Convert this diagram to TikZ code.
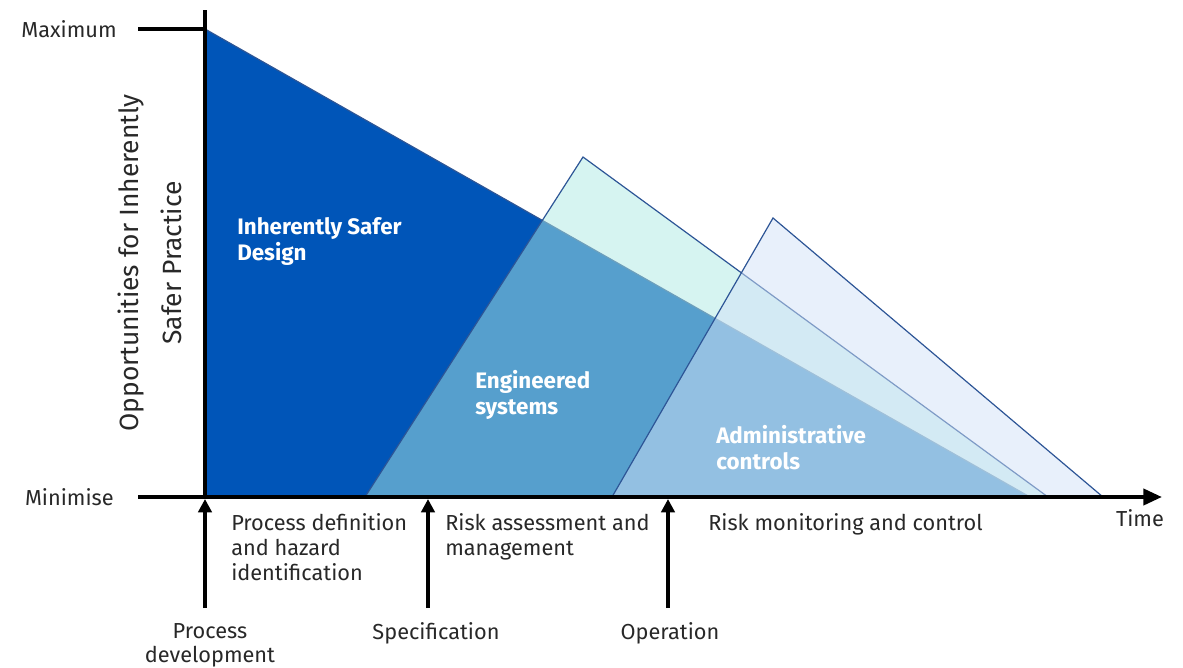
\documentclass[tikz,border=0pt]{standalone}
\usepackage{fontspec}
\setmainfont{Fira Sans}
\usetikzlibrary{arrows.meta}

\definecolor{isdblue}{RGB}{0,85,184}
\definecolor{engcyan}{RGB}{173,233,227}
\definecolor{admblue}{RGB}{209,225,247}
\definecolor{edgeblue}{RGB}{45,85,150}
\definecolor{labelgray}{RGB}{40,40,40}

\begin{document}
\begin{tikzpicture}[x=0.75pt, y=-0.75pt,
  every node/.style={font=\fontsize{16.3}{19}\selectfont, text=labelgray, inner sep=0pt},
  axis/.style={line width=3pt, black},
  zone/.style={draw=edgeblue, line width=0.9pt},
  zonelabel/.style={font=\bfseries\fontsize{16.8}{19.5}\selectfont, text=white, align=left, anchor=north west},
  phase/.style={align=left, anchor=north west},
  stagearrow/.style={line width=3pt, -{Triangle[length=10pt, width=10pt]}}]

  \useasboundingbox (0,0) rectangle (1183,668);

  %% Zones (later ones lie over the earlier ones)
  % Inherently safer design
  \coordinate (isdtop) at (205,29);
  \coordinate (isdleft) at (205,497);
  \coordinate (isdright) at (1030,497);
  \fill[isdblue] (isdtop) -- (isdleft) -- (isdright) -- cycle;
  \draw[zone] (isdtop) -- (isdright);

  % Engineered systems
  \coordinate (engtop) at (583,157);
  \coordinate (engleft) at (365,497);
  \coordinate (engright) at (1048,497);
  \fill[engcyan, opacity=0.5] (engleft) -- (engtop) -- (engright) -- cycle;
  \draw[zone] (engleft) -- (engtop) -- (engright);

  % Administrative controls
  \coordinate (admtop) at (773,218);
  \coordinate (admleft) at (612,497);
  \coordinate (admright) at (1103,497);
  \fill[admblue, opacity=0.5] (admleft) -- (admtop) -- (admright) -- cycle;
  \draw[zone] (admleft) -- (admtop) -- (admright);

  \node[zonelabel] (isdlab) at (237,217) {Inherently Safer\\Design};
  \node[zonelabel] (englab) at (475,370) {Engineered\\systems};
  \node[zonelabel] (admlab) at (716,425) {Administrative\\controls};

  %% Axes
  \node[anchor=east] (maxlab) at (117,29) {Maximum};
  \node[anchor=east] (minlab) at (114,497) {Minimise};
  \node (timelab) at (1140,518) {Time};
  \coordinate (ytop) at (205,10);
  \coordinate (maxtick) at (138,29);
  \coordinate (xstart) at (138,497);
  \coordinate (origin) at (205,497);
  \coordinate (xend) at (1162,497);
  \draw[axis] (maxtick) -- (205,29);
  \draw[axis] (ytop) -- (origin);
  \draw[axis, -{Triangle[length=14pt, width=12pt]}] (xstart) -- (xend);

  \node[rotate=90, align=center, font=\fontsize{19.8}{32}\selectfont] (ylab) at (150,263)
    {Opportunities for Inherently\\Safer Practice};

  %% Stages along the time axis
  \node[phase] (ph1) at (231,513) {Process definition\\and hazard\\identification};
  \node[phase] (ph2) at (445,513) {Risk assessment and\\management};
  \node[phase] (ph3) at (708,513) {Risk monitoring and control};

  \node[align=center, font=\fontsize{16.3}{18}\selectfont] (st1) at (210,645) {Process\\development};
  \node (st2) at (436,633) {Specification};
  \node (st3) at (670,633) {Operation};

  \coordinate (a1) at (205,608);
  \coordinate (a2) at (428,608);
  \coordinate (a3) at (668,608);
  \draw[stagearrow] (a1) -- (205,499);
  \draw[stagearrow] (a2) -- (428,499);
  \draw[stagearrow] (a3) -- (668,499);
\end{tikzpicture}
\end{document}
